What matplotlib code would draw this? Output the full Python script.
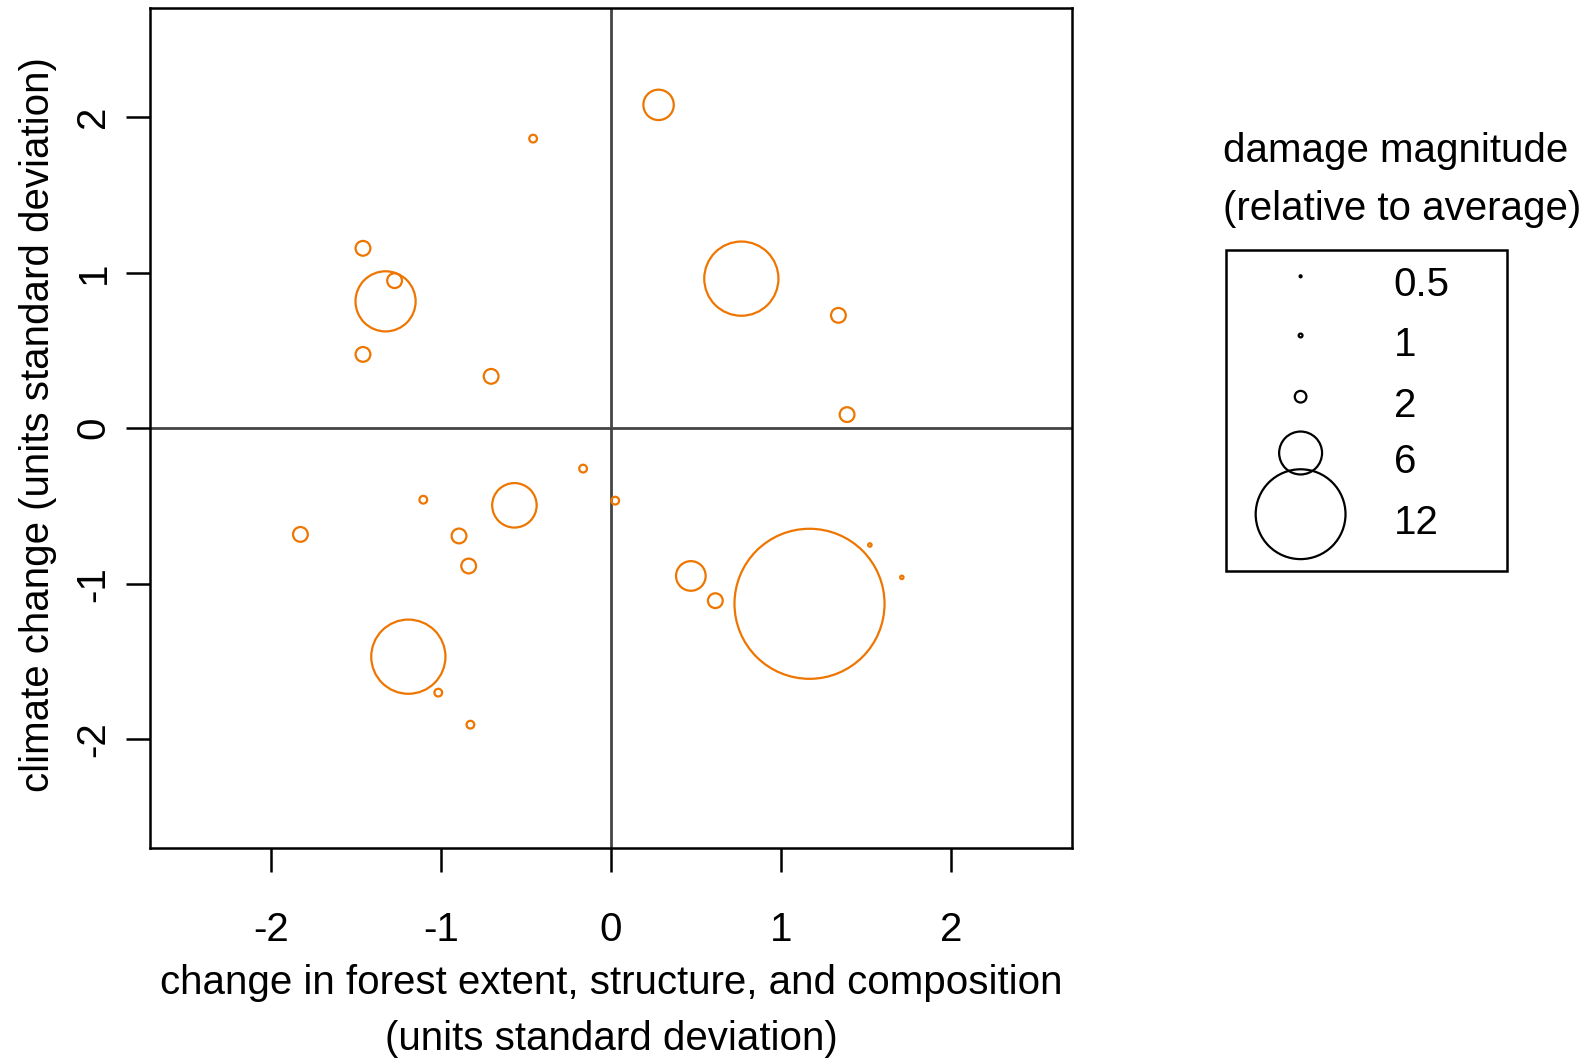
import matplotlib
matplotlib.use("Agg")
import matplotlib.pyplot as plt
from matplotlib.patches import Rectangle
import numpy as np

plt.rcParams['font.family'] = ['Liberation Sans', 'DejaVu Sans']

# forest change (x), climate change (y), damage magnitude relative to average
forest_change = [0.281, -0.457, -1.458, -1.272, -1.325, -1.458, -0.704, 0.768,
                 1.339, 1.390, -0.163, 0.026, -1.103, -0.567, -1.826, -0.893,
                 -0.836, 0.471, 0.615, 1.169, 1.524, 1.712, -1.191, -1.015,
                 -0.826]
climate_change = [2.078, 1.861, 1.156, 0.948, 0.815, 0.474, 0.333, 0.961,
                  0.725, 0.087, -0.260, -0.466, -0.460, -0.496, -0.683, -0.693,
                  -0.886, -0.950, -1.109, -1.129, -0.751, -0.959, -1.469, -1.700,
                  -1.906]
damage = [4.4, 1.5, 2.4, 2.4, 8.2, 2.4, 2.4, 10.0,
          2.4, 2.4, 1.5, 1.5, 1.5, 6.2, 2.4, 2.4,
          2.4, 4.3, 2.4, 19.7, 0.95, 0.95, 10.0, 1.5,
          1.5]

legend_values = [0.5, 1, 2, 6, 12]
legend_labels = ["0.5", "1", "2", "6", "12"]
x_ticks = [-2, -1, 0, 1, 2]
y_ticks = [-2, -1, 0, 1, 2]

W, H, DPI = 1587, 1063, 100
FS = 29


def marker_area(v):
    """Circle area (pt^2) for a damage value; radius grows linearly."""
    v = np.asarray(v, dtype=float)
    r_px = np.clip(3.91 * v - 2.0, 1.0, None)
    d_pt = 2 * r_px * 72.0 / DPI
    return d_pt ** 2


fig = plt.figure(figsize=(W / DPI, H / DPI), dpi=DPI)

# main panel, placed in pixel units
L, R, T, B = 149.8, 1071.8, 8.1, 848.2
ax = fig.add_axes([L / W, 1 - B / H, (R - L) / W, (B - T) / H])
ax.set_xlim(-2.712, 2.712)
ax.set_ylim(-2.70, 2.70)

ax.axhline(0, color="#444444", lw=2.0, zorder=1)
ax.axvline(0, color="#444444", lw=2.0, zorder=1)

ax.scatter(forest_change, climate_change, s=marker_area(damage),
           facecolors="none", edgecolors="#EE7600", linewidths=1.6, zorder=3)

for sp in ax.spines.values():
    sp.set_linewidth(1.8)
    sp.set_color("black")

ax.set_xticks(x_ticks)
ax.set_xticklabels([str(t) for t in x_ticks])
ax.set_yticks(y_ticks)
ax.set_yticklabels([str(t) for t in y_ticks], rotation=90, va="center")
ax.tick_params(axis="both", direction="out", length=17.5, width=1.8,
               labelsize=FS, colors="black")
ax.tick_params(axis="x", pad=28)
ax.tick_params(axis="y", pad=9.4)

# axis titles
fig.text(611 / W, 1 - 983 / H, "change in forest extent, structure, and composition",
         ha="center", va="center", fontsize=FS)
fig.text(611 / W, 1 - 1039 / H, "(units standard deviation)",
         ha="center", va="center", fontsize=FS)
fig.text(38.5 / W, 1 - 425 / H, "climate change (units standard deviation)",
         ha="center", va="center", rotation=90, fontsize=FS)

# size legend drawn on an overlay in pixel coordinates
lax = fig.add_axes([0, 0, 1, 1])
lax.set_xlim(0, W)
lax.set_ylim(H, 0)
lax.axis("off")
lax.add_patch(Rectangle((1225.7, 250), 1507 - 1225.7, 570.8 - 250,
                        fill=False, ec="black", lw=1.8))
lax.text(1222.6, 151, "damage magnitude", ha="left", va="center", fontsize=FS)
lax.text(1222.6, 208.5, "(relative to average)", ha="left", va="center", fontsize=FS)
leg_y = [276.3, 335.5, 396.7, 453, 514.2]
lax.scatter([1300.6] * len(legend_values), leg_y, s=marker_area(legend_values),
            facecolors="none", edgecolors="black", linewidths=1.6)
for yy, lab in zip(leg_y, legend_labels):
    lax.text(1393.5, yy + 9, lab, ha="left", va="center", fontsize=FS)

fig.savefig("out.png", dpi=DPI)
